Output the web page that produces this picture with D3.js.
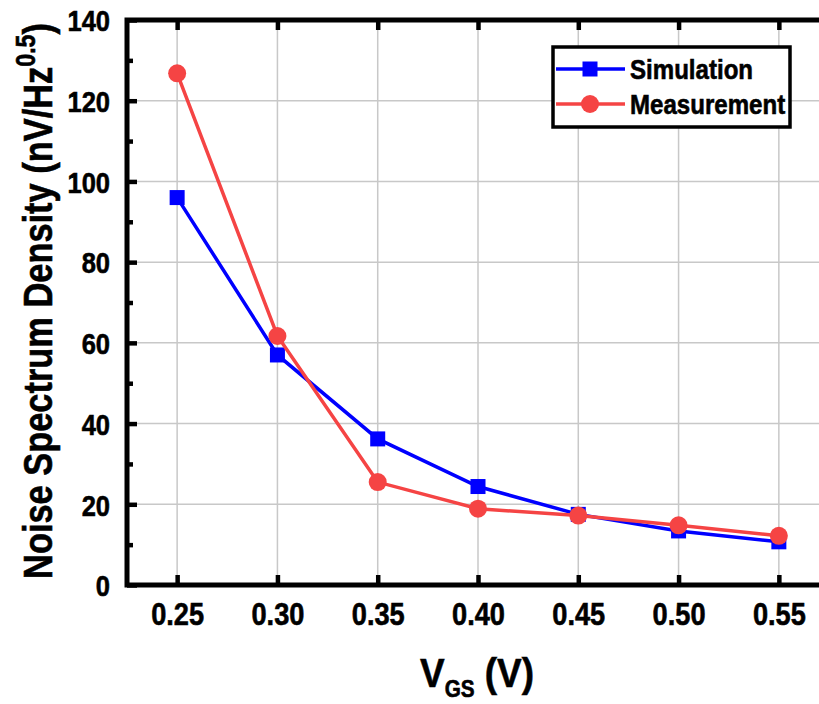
<!DOCTYPE html>
<html>
<head>
<meta charset="utf-8">
<script src="https://cdn.jsdelivr.net/npm/d3@7"></script>
<style>
  html, body { margin: 0; padding: 0; background: #fff; }
  svg { display: block; }
  text { font-family: "Liberation Sans", Arial, sans-serif; font-weight: bold; fill: #000; }
</style>
</head>
<body>
<svg id="chart" width="819" height="704"></svg>
<script>
// Gate-source voltage sweep (V)
const vgs = [0.25, 0.30, 0.35, 0.40, 0.45, 0.50, 0.55];
// Noise spectrum density (nV/Hz^0.5)
const simulation  = [96.0, 57.0, 36.2, 24.4, 17.5, 13.4, 10.7];
const measurement = [126.8, 61.7, 25.5, 18.9, 17.2, 14.8, 12.2];
const xTicks = [0.25, 0.30, 0.35, 0.40, 0.45, 0.50, 0.55];
const yTicks = [0, 20, 40, 60, 80, 100, 120, 140];
const yMinorTicks = [10, 30, 50, 70, 90, 110, 130];
const seriesNames = ["Simulation", "Measurement"];

const svg = d3.select("#chart");
const plotLeft = 127, plotRight = 829, plotTop = 20, plotBottom = 585;

const x = d3.scaleLinear().domain([0.225, 0.575]).range([plotLeft, plotRight]);
const y = d3.scaleLinear().domain([0, 140]).range([plotBottom, plotTop]);

const BLUE = "#0000ff", RED = "#f54444";
const SX = 0.85;          // horizontal squeeze for the condensed bold lettering
const HEAVY = 0.6;        // extra outline that thickens the bold glyphs

// grid
const grid = svg.append("g");
grid.selectAll("line.gx").data(xTicks).join("line").attr("class", "gx")
  .attr("x1", d => x(d)).attr("x2", d => x(d))
  .attr("y1", plotTop).attr("y2", plotBottom)
  .attr("stroke", "#c8c8c8").attr("stroke-width", 1.5);
grid.selectAll("line.gy").data(yTicks).join("line").attr("class", "gy")
  .attr("x1", plotLeft).attr("x2", plotRight)
  .attr("y1", d => y(d)).attr("y2", d => y(d))
  .attr("stroke", "#c8c8c8").attr("stroke-width", 1.5);

// axes (ticks point inward)
function styleAxis(g) {
  g.select(".domain").remove();
  g.selectAll(".tick line").attr("stroke", "#000").attr("stroke-width", 4.5);
}
function styleLabels(sel, size) {
  sel.attr("font-size", size)
    .attr("font-family", "Liberation Sans, Arial, sans-serif")
    .attr("font-weight", "bold")
    .attr("fill", "#000").attr("stroke", "#000").attr("stroke-width", HEAVY)
    .attr("transform", `scale(${SX},1)`);
}
const fmtX = d3.format(".2f");

const xAxis = svg.append("g").attr("transform", `translate(0,${plotBottom})`)
  .call(d3.axisBottom(x).tickValues(xTicks).tickSizeInner(-10).tickSizeOuter(0).tickFormat(fmtX));
styleAxis(xAxis);
styleLabels(xAxis.selectAll(".tick text").attr("y", 40).attr("dy", 0), 32);

const xTop = svg.append("g").attr("transform", `translate(0,${plotTop})`)
  .call(d3.axisTop(x).tickValues(xTicks).tickSizeInner(-10).tickSizeOuter(0).tickFormat(""));
styleAxis(xTop);

const yAxis = svg.append("g").attr("transform", `translate(${plotLeft},0)`)
  .call(d3.axisLeft(y).tickValues(yTicks).tickSizeInner(-10).tickSizeOuter(0));
styleAxis(yAxis);
styleLabels(yAxis.selectAll(".tick text").attr("x", -20).attr("dy", "0.36em"), 30);
const yMinor = svg.append("g").attr("transform", `translate(${plotLeft},0)`)
  .call(d3.axisLeft(y).tickValues(yMinorTicks).tickSizeInner(-6).tickSizeOuter(0).tickFormat(""));
styleAxis(yMinor);

const yRight = svg.append("g").attr("transform", `translate(${plotRight},0)`)
  .call(d3.axisRight(y).tickValues(yTicks).tickSizeInner(-10).tickSizeOuter(0).tickFormat(""));
styleAxis(yRight);
const yRightMinor = svg.append("g").attr("transform", `translate(${plotRight},0)`)
  .call(d3.axisRight(y).tickValues(yMinorTicks).tickSizeInner(-6).tickSizeOuter(0).tickFormat(""));
styleAxis(yRightMinor);

// frame
svg.append("rect").attr("x", plotLeft).attr("y", plotTop)
  .attr("width", plotRight - plotLeft).attr("height", plotBottom - plotTop)
  .attr("fill", "none").attr("stroke", "#000").attr("stroke-width", 5);

// series
const line = d3.line().x(d => x(d[0])).y(d => y(d[1]));
const simPts = vgs.map((v, i) => [v, simulation[i]]);
const measPts = vgs.map((v, i) => [v, measurement[i]]);

svg.append("path").datum(simPts).attr("d", line)
  .attr("fill", "none").attr("stroke", BLUE).attr("stroke-width", 3.5);
svg.selectAll("rect.sim").data(simPts).join("rect").attr("class", "sim")
  .attr("x", d => x(d[0]) - 7.5).attr("y", d => y(d[1]) - 7.5)
  .attr("width", 15).attr("height", 15).attr("fill", BLUE);

svg.append("path").datum(measPts).attr("d", line)
  .attr("fill", "none").attr("stroke", RED).attr("stroke-width", 3.5);
svg.selectAll("circle.meas").data(measPts).join("circle").attr("class", "meas")
  .attr("cx", d => x(d[0])).attr("cy", d => y(d[1])).attr("r", 9).attr("fill", RED);

// legend
const legend = svg.append("g");
legend.append("rect").attr("x", 553).attr("y", 47).attr("width", 237).attr("height", 80)
  .attr("fill", "#fff").attr("stroke", "#000").attr("stroke-width", 3.5);
const legendRows = [
  { name: seriesNames[0], color: BLUE, shape: "square", cy: 69 },
  { name: seriesNames[1], color: RED, shape: "circle", cy: 104 }
];
legendRows.forEach(r => {
  legend.append("line").attr("x1", 556).attr("x2", 625).attr("y1", r.cy).attr("y2", r.cy)
    .attr("stroke", r.color).attr("stroke-width", 3.5);
  if (r.shape === "square") {
    legend.append("rect").attr("x", 590 - 7.5).attr("y", r.cy - 7.5)
      .attr("width", 15).attr("height", 15).attr("fill", r.color);
  } else {
    legend.append("circle").attr("cx", 590).attr("cy", r.cy).attr("r", 9).attr("fill", r.color);
  }
  legend.append("text").attr("transform", `translate(630,${r.cy + 10}) scale(0.86,1)`)
    .attr("font-size", 28).attr("stroke", "#000").attr("stroke-width", HEAVY).text(r.name);
});

// axis titles
const xt = svg.append("text").attr("transform", `translate(477,687) scale(0.9,1)`)
  .attr("text-anchor", "middle").attr("font-size", 41)
  .attr("stroke", "#000").attr("stroke-width", HEAVY);
xt.append("tspan").text("V");
xt.append("tspan").attr("font-size", 23).attr("dy", 10).text("GS");
xt.append("tspan").attr("dy", -10).text(" (V)");

const yt = svg.append("text").attr("transform", `translate(52,301) rotate(-90) scale(0.86,1)`)
  .attr("text-anchor", "middle").attr("font-size", 40)
  .attr("stroke", "#000").attr("stroke-width", HEAVY);
yt.append("tspan").text("Noise Spectrum Density (nV/Hz");
yt.append("tspan").attr("font-size", 27).attr("dy", -17).text("0.5");
yt.append("tspan").attr("dy", 17).text(")");
</script>
</body>
</html>
